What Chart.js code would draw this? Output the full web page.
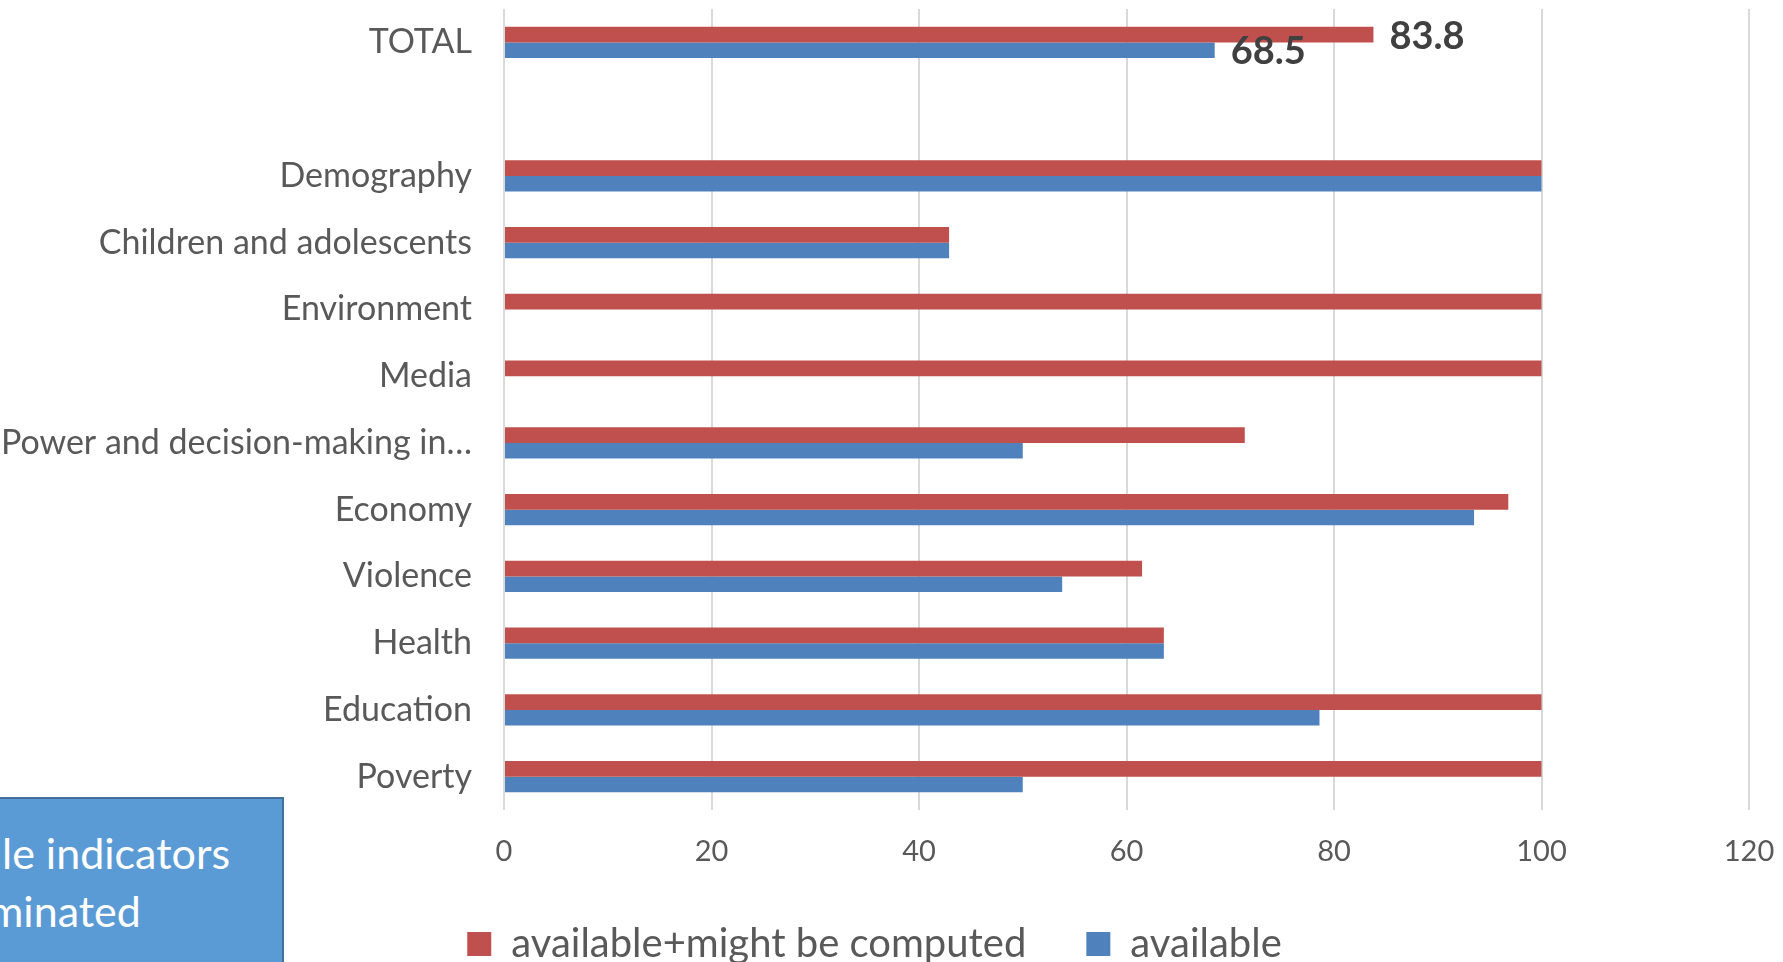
<!DOCTYPE html>
<html>
<head>
<meta charset="utf-8">
<script src="https://cdn.jsdelivr.net/npm/chart.js@4.4.1/dist/chart.umd.min.js"></script>
<style>
  html, body { margin: 0; padding: 0; background: #fff; overflow: hidden; }
  #wrap { position: relative; width: 1783px; height: 962px; }
  #note {
    position: absolute; left: -4px; top: 797px; width: 288px; height: 180px;
    background: #5B9BD5; border: 2px solid #41719C; box-sizing: border-box;
    overflow: hidden; color: #fff; font-family: Lato, sans-serif; font-size: 43px;
  }
  #note .l1 { position: absolute; left: 4px; top: 28px; white-space: nowrap; }
  #note .l2 { position: absolute; left: -10px; top: 86px; white-space: nowrap; }
</style>
</head>
<body>
<div id="wrap">
  <canvas id="chart" width="1783" height="962"></canvas>
  <div id="note"><span class="l1">le indicators</span><span class="l2">minated</span></div>
</div>
<script>
// values
const categories = ['TOTAL', '', 'Demography', 'Children and adolescents', 'Environment', 'Media',
  'Power and decision-making in…', 'Economy', 'Violence', 'Health', 'Education', 'Poverty'];
const computedVals = [83.8, null, 100, 42.9, 100, 100, 71.4, 96.8, 61.5, 63.6, 100, 100];
const availableVals = [68.5, null, 100, 42.9, 0, 0, 50, 93.5, 53.8, 63.6, 78.6, 50];
const xTicks = [0, 20, 40, 60, 80, 100, 120];
const labelledCategories = ['TOTAL'];

const textGrey = '#595959';
Chart.defaults.font.family = 'Lato, sans-serif';

// value labels next to the TOTAL bars
const totalLabels = {
  id: 'totalLabels',
  afterDatasetsDraw(chart) {
    const ctx = chart.ctx;
    ctx.save();
    ctx.font = 'bold 38px Lato, sans-serif';
    ctx.fillStyle = '#404040';
    ctx.textAlign = 'left';
    ctx.textBaseline = 'middle';
    chart.data.datasets.forEach((ds, di) => {
      const meta = chart.getDatasetMeta(di);
      labelledCategories.forEach(cat => {
        const i = categories.indexOf(cat);
        const bar = meta.data[i];
        if (bar && ds.data[i] != null) ctx.fillText(ds.data[i].toFixed(1), bar.x + 16, bar.y + 2);
      });
    });
    ctx.restore();
  }
};

new Chart(document.getElementById('chart'), {
  type: 'bar',
  data: {
    labels: categories,
    datasets: [
      { label: 'available+might be computed', data: computedVals, backgroundColor: '#C0504D', borderWidth: 0 },
      { label: 'available', data: availableVals, backgroundColor: '#4F81BD', borderWidth: 0 }
    ]
  },
  options: {
    indexAxis: 'y',
    responsive: false,
    animation: false,
    categoryPercentage: 0.47,
    barPercentage: 1.0,
    layout: { padding: { top: 9, right: 34, left: 0, bottom: -12 } },
    scales: {
      x: {
        min: 0, max: 120,
        afterBuildTicks: (s) => { s.ticks = xTicks.map(v => ({ value: v })); },
        afterFit: (s) => { s.height = 54; s.paddingLeft = 0; s.paddingRight = 0; },
        grid: { color: '#D9D9D9', lineWidth: 2, drawTicks: false },
        border: { display: false },
        ticks: { color: textGrey, font: { size: 29 }, padding: 24 }
      },
      y: {
        afterFit: (s) => { s.width = 504; s.paddingTop = 0; s.paddingBottom = 0; },
        grid: { display: false, drawTicks: false },
        border: { display: false },
        ticks: { color: textGrey, font: { size: 34 }, padding: 32, autoSkip: false }
      }
    },
    plugins: {
      legend: {
        position: 'bottom',
        labels: { color: textGrey, font: { size: 40 }, boxWidth: 24, boxHeight: 24, padding: 60 }
      },
      tooltip: { enabled: false }
    }
  },
  plugins: [totalLabels]
});
</script>
</body>
</html>
